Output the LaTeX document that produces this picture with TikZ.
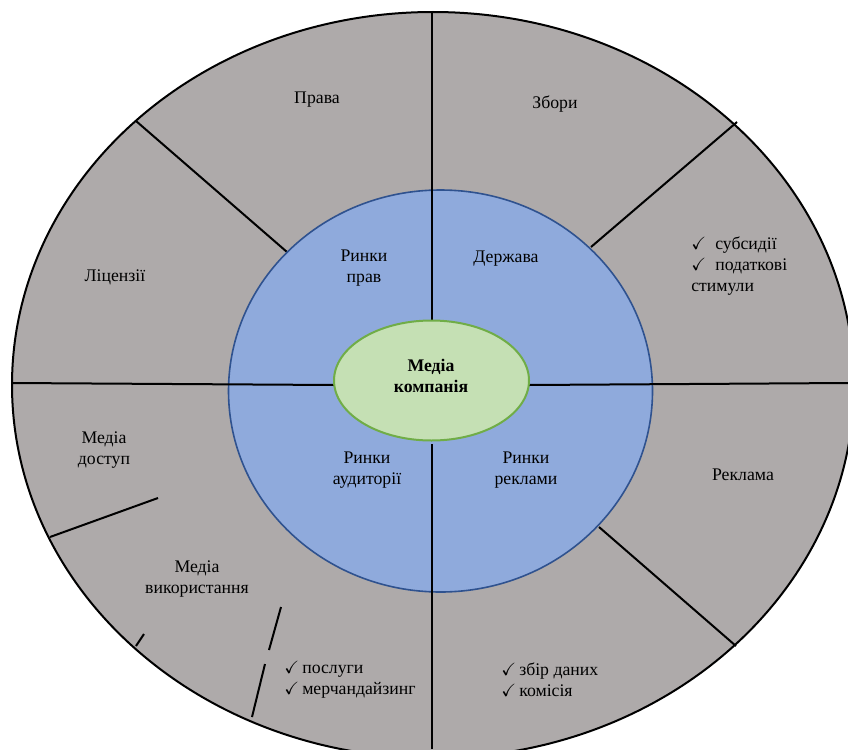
\documentclass[tikz,border=0pt]{standalone}
\usepackage{amsmath, amssymb}
\usepackage{fontspec}
\setmainfont{Liberation Serif}
\usepackage{tikz}

\definecolor{ringgray}{HTML}{AEAAAA}
\definecolor{marketblue}{HTML}{8FAADC}
\definecolor{marketedge}{HTML}{2F528F}
\definecolor{corefill}{HTML}{C5E0B4}
\definecolor{coreedge}{HTML}{70AD47}

\newcommand{\chk}[1]{\makebox[#1][l]{$\checkmark$}}

\begin{document}
\begin{tikzpicture}[x=0.75pt,y=0.75pt,yscale=-1,xscale=1,
  lbl/.style={inner sep=0.75pt, align=center, font=\fontsize{13.3}{15.9}\selectfont},
  lst/.style={inner sep=0.75pt, align=left, font=\fontsize{13.3}{15.5}\selectfont},
  divline/.style={line width=1.5pt}]
\useasboundingbox (0,0) rectangle (848,749);
\clip (0,0) rectangle (848,749);

%Shape: Ellipse [id:outer] 
\draw [fill=ringgray, line width=1.5pt] (433,385) ellipse (421 and 373);

%Straight Lines [id:diag] 
\draw [divline] (136,121) -- (287,252) ;
\draw [divline] (737,122) -- (591,247) ;
\draw [divline] (599,527) -- (736,646) ;
\draw [divline] (50,537) -- (158,498) ;
\draw [divline] (136,646) -- (144,634) ;
\draw [divline] (281,607) -- (269,650) ;
\draw [divline] (265,664) -- (252,717) ;

%Shape: Circle [id:markets] 
\draw [fill=marketblue, draw=marketedge, line width=1.2pt] (440.5,391) ellipse (212 and 201);

%Straight Lines [id:cross] 
\draw [divline] (432,12) -- (432,321) ;
\draw [divline] (432,444) -- (432,749) ;
\draw [divline] (12,383) -- (334,385) ;
\draw [divline] (529,385) -- (848,383) ;

%Shape: Ellipse [id:core] 
\draw [fill=corefill, draw=coreedge, line width=1.5pt] (431.5,380.5) ellipse (97.5 and 60);

% Text Node
\draw (431,376) node [lbl] (core) {\textbf{Медіа}\\\textbf{компанія}};
% Text Node
\draw (364,268) node [lbl] (rightsmkt) {Ринки\\прав};
% Text Node
\draw (506,259) node [lbl] (state) {Держава};
% Text Node
\draw (367,470) node [lbl] (audmkt) {Ринки\\аудиторії};
% Text Node
\draw (526,470) node [lbl] (admkt) {Ринки\\реклами};
% Text Node
\draw (317,100) node [lbl] (rights) {Права};
% Text Node
\draw (555,104) node [lbl] (fees) {Збори};
% Text Node
\draw (115,277) node [lbl] (licences) {Ліцензії};
% Text Node
\draw (743,475) node [lbl] (ads) {Реклама};
% Text Node
\draw (104,450) node [lbl] (access) {Медіа\\доступ};
% Text Node
\draw (197,579) node [lbl] (usage) {Медіа\\використання};
% Text Node
\draw (690,266) node [lst, anchor=west] (subsidies) {\chk{18pt}субсидії\\\chk{18pt}податкові\\стимули};
% Text Node
\draw (283,680) node [lst, anchor=west] (services) {\chk{13.5pt}послуги\\\chk{13.5pt}мерчандайзинг};
% Text Node
\draw (500,680) node [lst, anchor=west] (data) {\chk{13.5pt}збір даних\\\chk{13.5pt}комісія};

\end{tikzpicture}
\end{document}
